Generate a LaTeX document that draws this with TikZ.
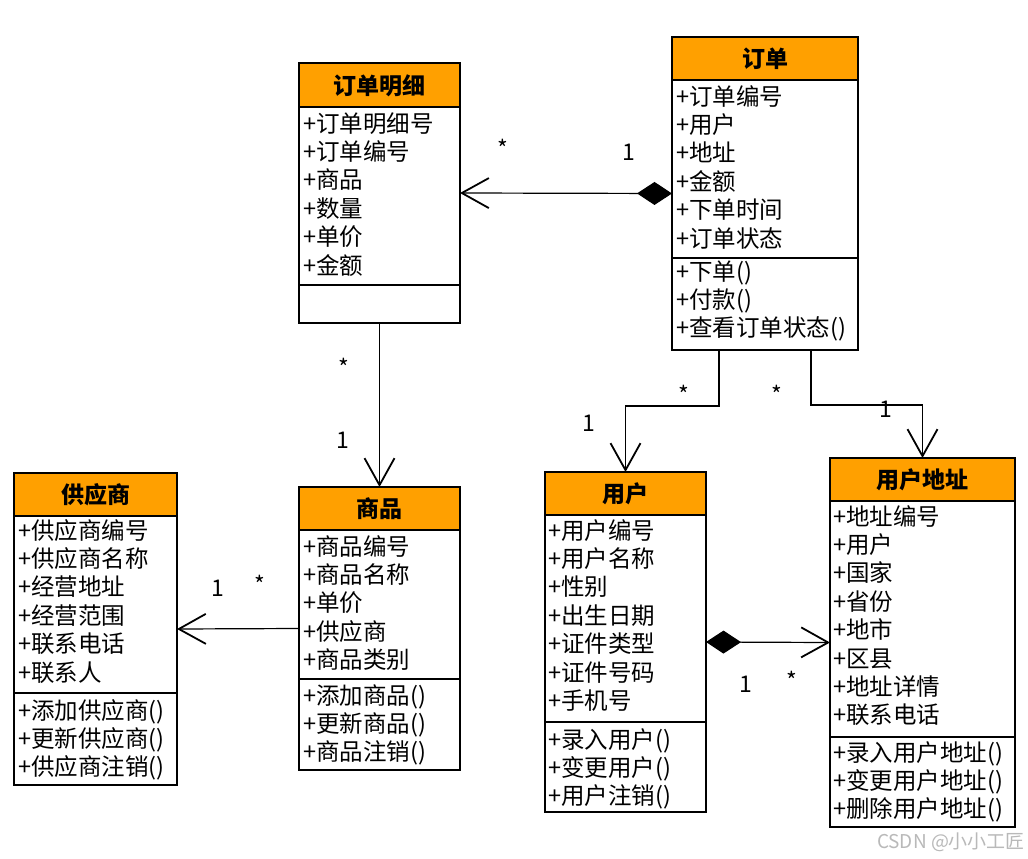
\documentclass[tikz,border=0pt]{standalone}
\usepackage{fontspec}
\setmainfont{Noto Sans CJK SC}
\usetikzlibrary{arrows.meta}
\definecolor{hdrorange}{RGB}{255,160,0}
\definecolor{wmgray}{RGB}{185,185,185}
\tikzset{
  frame/.style={draw=black, line width=2.2pt, inner sep=0pt, outer sep=0pt, rectangle},
  sepline/.style={draw=black, line width=2.2pt},
  hdr/.style={fill=hdrorange},
  title/.style={font=\fontsize{23}{26}\selectfont\bfseries, inner sep=0pt},
  row/.style={anchor=west, font=\fontsize{23.5}{26}\selectfont, inner sep=0pt, text height=0.8em, text depth=0.2em},
  mult/.style={font=\fontsize{23}{24}\selectfont, inner sep=0pt},
  assoc/.style={draw=black, line width=1.2pt, -{Straight Barb[length=27pt, width=30pt, line width=1.8pt]}},
  comp/.style={draw=black, line width=1.2pt, {Diamond[length=35pt, width=23pt, fill=black]}-{Straight Barb[length=27pt, width=30pt, line width=1.8pt]}},
}
\newcommand\umlbox[7]{%
  \fill[hdr] (#2,#3) rectangle ++(#4,#6);
  \node[frame, minimum width=#4pt, minimum height=#5pt, anchor=north west] (#1) at (#2,#3) {};
  \draw[sepline] (#2,#3+#6) -- ++(#4,0);
  \draw[sepline] (#2,#3+#7) -- ++(#4,0);
}
\newcommand\umlrows[4]{%
  \foreach \t [count=\i] in {#4} {\node[row] (#1\i) at (#2, {#3+5+28.4*(\i-1)}) {\t};}
}
\begin{document}
\begin{tikzpicture}[x=1pt, y=-1pt]
\useasboundingbox[fill=white] (0,0) rectangle (1028,859);

% 订单明细
\umlbox{detail}{299}{63}{161}{260}{44}{222}
\node[title] (detail-t) at (379.5,86) {订单明细};
\umlrows{detail-a}{303}{124}{+订单明细号,+订单编号,+商品,+数量,+单价,+金额}

% 订单
\umlbox{order}{672}{37}{186}{313}{43}{221}
\node[title] (order-t) at (765,59) {订单};
\umlrows{order-a}{676}{97}{+订单编号,+用户,+地址,+金额,+下单时间,+订单状态}
\umlrows{order-m}{676}{272}{+下单(),+付款(),+查看订单状态()}

% 供应商
\umlbox{supplier}{14}{473}{163}{312}{43}{220}
\node[title] (supplier-t) at (95.5,495) {供应商};
\umlrows{supplier-a}{18}{531}{+供应商编号,+供应商名称,+经营地址,+经营范围,+联系电话,+联系人}
\umlrows{supplier-m}{18}{711}{+添加供应商(),+更新供应商(),+供应商注销()}

% 商品
\umlbox{goods}{299}{487}{161}{283}{43}{192}
\node[title] (goods-t) at (379.5,509) {商品};
\umlrows{goods-a}{303}{547}{+商品编号,+商品名称,+单价,+供应商,+商品类别}
\umlrows{goods-m}{303}{696}{+添加商品(),+更新商品(),+商品注销()}

% 用户
\umlbox{user}{545}{472}{161}{340}{43}{250}
\node[title] (user-t) at (625.5,494) {用户};
\umlrows{user-a}{548}{531}{+用户编号,+用户名称,+性别,+出生日期,+证件类型,+证件号码,+手机号}
\umlrows{user-m}{548}{740}{+录入用户(),+变更用户(),+用户注销()}

% 用户地址
\umlbox{address}{830}{458}{185}{369}{43}{279}
\node[title] (address-t) at (922.5,480) {用户地址};
\umlrows{address-a}{833}{517}{+地址编号,+用户,+国家,+省份,+地市,+区县,+地址详情,+联系电话}
\umlrows{address-m}{833}{753}{+录入用户地址(),+变更用户地址(),+删除用户地址()}

% connectors
\draw[comp] (order.west) -- (detail.east);
\draw[assoc] (detail.south) -- (goods.north);
\draw[assoc] (goods.west) -- (supplier.east);
\draw[assoc] ([xshift=-46pt]order.south) -- ++(0,56) -| (user.north);
\draw[assoc] ([xshift=46pt]order.south) -- ++(0,55) -| (address.north);
\draw[comp] (user.east) -- (address.west);

% multiplicities
\node[mult] (m1) at (503,148) {*};
\node[mult] (m2) at (629,152) {1};
\node[mult] (m3) at (344,367) {*};
\node[mult] (m4) at (343,440) {1};
\node[mult] (m5) at (218,588) {1};
\node[mult] (m6) at (260,584) {*};
\node[mult] (m7) at (684,394) {*};
\node[mult] (m8) at (589,423) {1};
\node[mult] (m9) at (777,394) {*};
\node[mult] (m10) at (886,409) {1};
\node[mult] (m11) at (746,684) {1};
\node[mult] (m12) at (792,680) {*};

% watermark
\node[text=wmgray, font=\fontsize{19}{21}\selectfont, inner sep=0pt] (wm) at (951,842) {CSDN @小小工匠};
\end{tikzpicture}
\end{document}
